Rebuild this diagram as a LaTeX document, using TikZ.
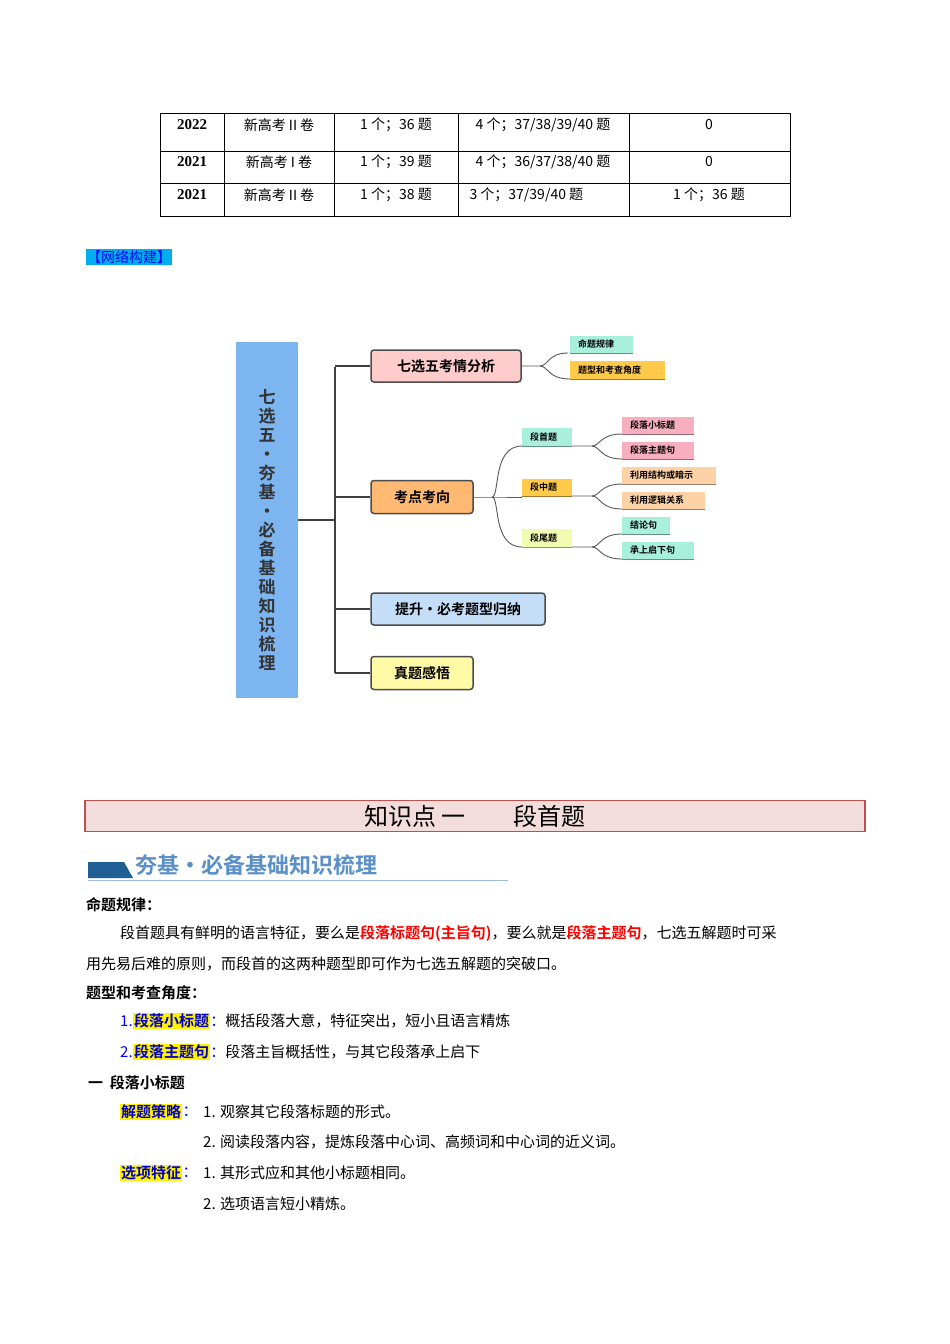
\documentclass[tikz,border=0pt]{standalone}
\usepackage{fontspec}
\setmainfont{Liberation Serif}
\newfontfamily\cjk{Noto Sans CJK SC}
\newfontfamily\cjkb{Noto Sans CJK SC Bold}
\usetikzlibrary{positioning}
\definecolor{hdblue}{HTML}{1F5F96}
\definecolor{hdtext}{HTML}{5B8FC7}
\definecolor{lblue}{HTML}{7DB5F0}
\tikzset{
 cell/.style={font=\cjk\fontsize{14}{14}\selectfont},
 boxm/.style={draw=black!70,line width=1.5pt,rounded corners=3pt,font=\cjkb\fontsize{14}{14}\selectfont,inner sep=0},
 tag/.style={font=\cjkb\fontsize{9}{9}\selectfont,inner sep=0,anchor=west},
 link/.style={draw=black!65,line width=0.9pt},
 trunk/.style={draw=black!75,line width=2.5pt},
 body/.style={font=\cjk\fontsize{15}{15}\selectfont,anchor=west,inner sep=0},
 hl/.style={fill=yellow,text=blue!80!black,font=\cjkb\fontsize{15}{15}\selectfont,inner sep=1pt,anchor=west}
}
\begin{document}
\begin{tikzpicture}[x=1pt,y=-1pt]
\useasboundingbox (0,0) rectangle (950,1344);
\fill[white] (0,0) rectangle (950,1344);
% table
\draw[line width=0.8pt] (160,113) rectangle (790,216);
\foreach \y in {151,183} \draw[line width=0.8pt] (160,\y)--(790,\y);
\foreach \x in {224,334,458,629} \draw[line width=0.8pt] (\x,113)--(\x,216);
\node[font=\bfseries\fontsize{15}{15}\selectfont] (r1a) at (192,125) {2022};
\node[font=\bfseries\fontsize{15}{15}\selectfont] (r2a) at (192,162) {2021};
\node[font=\bfseries\fontsize{15}{15}\selectfont] (r3a) at (192,195) {2021};
\node[cell] (r1b) at (279,125) {新高考 II 卷};
\node[cell] (r2b) at (279,162) {新高考 I 卷};
\node[cell] (r3b) at (279,195) {新高考 II 卷};
\node[cell] (r1c) at (396,125) {1 个；36 题};
\node[cell] (r2c) at (396,162) {1 个；39 题};
\node[cell] (r3c) at (396,195) {1 个；38 题};
\node[cell] (r1d) at (543,125) {4 个；37/38/39/40 题};
\node[cell] (r2d) at (543,162) {4 个；36/37/38/40 题};
\node[cell,anchor=west] (r3d) at (466,195) {3 个；37/39/40 题};
\node[cell] (r1e) at (709,125) {0};
\node[cell] (r2e) at (709,162) {0};
\node[cell] (r3e) at (709,195) {1 个；36 题};
% network label
\node[fill=cyan,text=blue,font=\cjk\fontsize{14}{14}\selectfont,inner sep=1pt,anchor=west] (net) at (86,257) {【网络构建】};
% mind map
\fill[lblue] (236,342) rectangle (298,698);
\node[font=\cjkb\fontsize{17}{19}\selectfont,align=center,text=black!80] (root) at (267,530) {七\\选\\五\\·\\夯\\基\\·\\必\\备\\基\\础\\知\\识\\梳\\理};
\coordinate (rootr) at (298,520);
\coordinate (tr) at (335,520);
\draw[trunk] (rootr)--(tr);
\draw[trunk] (335,367)--(335,673);
\node[boxm,fill=red!20,minimum width=150,minimum height=32] (b1) at (446,366) {七选五考情分析};
\node[boxm,fill=orange!55,minimum width=102,minimum height=33] (b2) at (422,497) {考点考向};
\node[boxm,fill=cyan!18!blue!10,fill=lblue!45,minimum width=174,minimum height=32] (b3) at (458,609) {提升·必考题型归纳};
\node[boxm,fill=yellow!35,minimum width=102,minimum height=33] (b4) at (422,673) {真题感悟};
\foreach \b in {b1,b2,b3,b4} \draw[trunk] (335,0 |- \b.west)--(\b.west);
% tags
\newcommand{\tagbox}[7]{% name, x1, x2, y1, y2, fill, text
 \fill[#6] (#2,#4) rectangle (#3,#5);
 \draw[#6!60!black,line width=0.8pt] (#2,#5)--(#3,#5);
 \node[tag] (#1) at (#2+8,#4/2+#5/2) {#7};}
\definecolor{mint}{HTML}{A8F0DC}
\definecolor{gold}{HTML}{FFC94A}
\definecolor{pinkt}{HTML}{F7AFC0}
\definecolor{peach}{HTML}{FDD2A6}
\definecolor{lyel}{HTML}{F2FCB0}
\tagbox{t1}{570}{633}{336}{353}{mint}{命题规律}
\tagbox{t2}{570}{665}{361}{379}{gold}{题型和考查角度}
\tagbox{s1}{522}{572}{428}{446}{mint}{段首题}
\tagbox{s2}{522}{572}{479}{496}{gold}{段中题}
\tagbox{s3}{522}{572}{529}{547}{lyel}{段尾题}
\tagbox{u1}{622}{694}{417}{434}{pinkt}{段落小标题}
\tagbox{u2}{622}{694}{442}{459}{pinkt}{段落主题句}
\tagbox{u3}{622}{716}{467}{484}{peach}{利用结构或暗示}
\tagbox{u4}{622}{705}{492}{509}{peach}{利用逻辑关系}
\tagbox{u5}{622}{670}{517}{534}{mint}{结论句}
\tagbox{u6}{622}{694}{542}{559}{mint}{承上启下句}
% links
\draw[link] (b1.east)--(540,366) .. controls (548,366) and (548,353) .. (568,353);
\draw[link] (540,366) .. controls (548,366) and (548,379) .. (570,379);
\draw[link] (b2.east)--(492,497)--(522,497);
\draw[link] (492,497) .. controls (500,497) and (492,446) .. (522,446);
\draw[link] (492,497) .. controls (500,497) and (492,547) .. (522,547);
\foreach \y/\a/\b in {446/434/459,496/484/509,547/534/559}{
 \draw[link] (572,\y)--(592,\y) .. controls (600,\y) and (600,\a) .. (622,\a);
 \draw[link] (592,\y) .. controls (600,\y) and (600,\b) .. (622,\b);}
% header bar
\node[draw={rgb,255:red,192;green,80;blue,77},line width=1.5pt,fill={rgb,255:red,242;green,220;blue,220},minimum width=780,minimum height=31,font=\cjk\fontsize{24}{24}\selectfont,inner sep=0] (hdr) at (475,816) {知识点\ 一\hspace{2em}段首题};
\fill[hdblue] (88,862)--(124,862)--(133,878)--(88,878)--cycle;
\draw[hdtext!60,line width=0.8pt] (88,880)--(508,880);
\node[text=hdtext,font=\cjkb\fontsize{22}{22}\selectfont,anchor=west,inner sep=0] (h2) at (135,865) {夯基·必备基础知识梳理};
% body
\node[body,font=\cjkb\fontsize{15}{15}\selectfont] (p1) at (86,905) {命题规律：};
\node[body] (p2) at (120,934) {段首题具有鲜明的语言特征，要么是{\cjkb\color{red}段落标题句(主旨句)}，要么就是{\cjkb\color{red}段落主题句}，七选五解题时可采};
\node[body] (p3) at (86,964) {用先易后难的原则，而段首的这两种题型即可作为七选五解题的突破口。};
\node[body,font=\cjkb\fontsize{15}{15}\selectfont] (p4) at (86,993) {题型和考查角度：};
\node[body,text=blue] (p5a) at (120,1021) {1.};
\node[hl,right=0pt of p5a] (p5b) {段落小标题};
\node[body,right=0pt of p5b] (p5c) {{\color{blue}：}概括段落大意，特征突出，短小且语言精炼};
\node[body,text=blue] (p6a) at (120,1052) {2.};
\node[hl,right=0pt of p6a] (p6b) {段落主题句};
\node[body,right=0pt of p6b] (p6c) {{\color{blue}：}段落主旨概括性，与其它段落承上启下};
\node[body,font=\cjkb\fontsize{15}{15}\selectfont] (p7) at (88,1083) {一\ \ 段落小标题};
\node[hl] (p8a) at (120,1112) {解题策略};
\node[body,right=0pt of p8a] (p8b) {{\color{blue}：}};
\node[body] (p8c) at (203,1112) {1. 观察其它段落标题的形式。};
\node[body] (p9) at (203,1142) {2. 阅读段落内容，提炼段落中心词、高频词和中心词的近义词。};
\node[hl] (p10a) at (120,1173) {选项特征};
\node[body,right=0pt of p10a] (p10b) {{\color{blue}：}};
\node[body] (p10c) at (203,1173) {1. 其形式应和其他小标题相同。};
\node[body] (p11) at (203,1204) {2. 选项语言短小精炼。};
\end{tikzpicture}
\end{document}
